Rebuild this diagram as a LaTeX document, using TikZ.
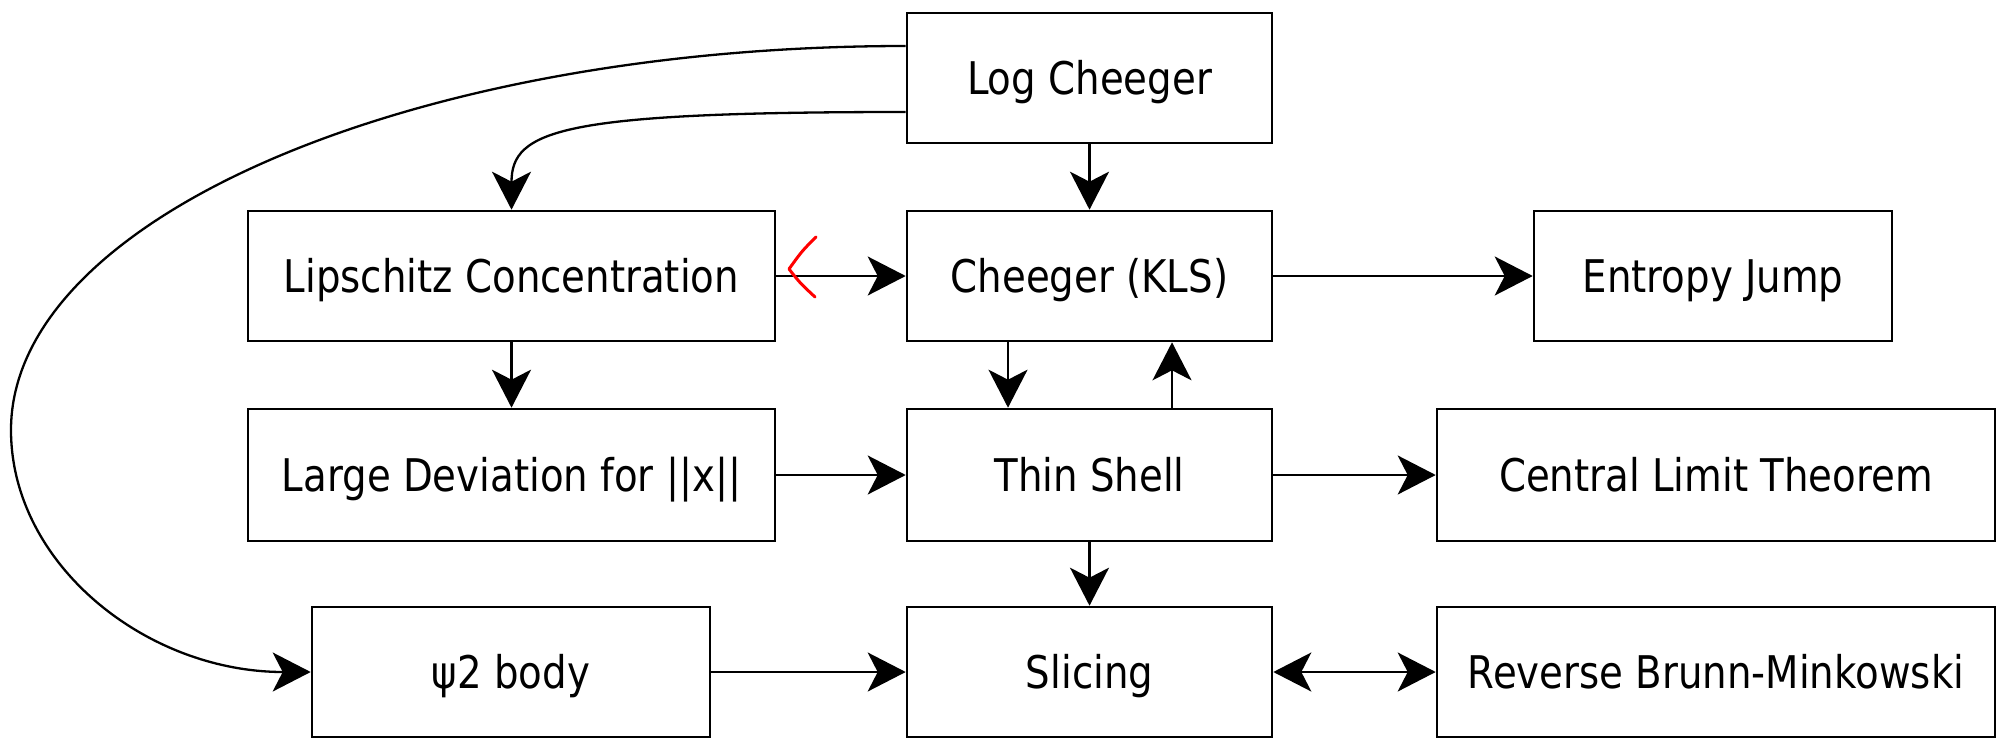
\documentclass[tikz,border=0pt]{standalone}
\usepackage{fontspec}
\setmainfont{DejaVu Sans}[FakeStretch=0.86]
\usetikzlibrary{arrows.meta}
\begin{document}
\begin{tikzpicture}[x=0.5pt,y=-0.5pt,
  box/.style={draw, line width=1.3pt, inner sep=0pt, align=center,
    text height=20.4pt, text depth=4pt,
    font=\fontsize{22.5}{27}\selectfont},
  arr/.style={line width=1.15pt, -{Stealth[length=19pt,width=19.5pt,inset=5pt]}},
  arrboth/.style={line width=1.15pt, {Stealth[length=19pt,width=19.5pt,inset=5pt]}-{Stealth[length=19pt,width=19.5pt,inset=5pt]}},
  redmark/.style={draw=red, line width=1.5pt, line cap=round, line join=round}
]
\useasboundingbox (0,0) rectangle (2001,739);
\fill[white] (0,0) rectangle (2001,739);

\node[box, minimum width=182.5pt, minimum height=65pt] (LogC) at (1089.5,78) {Log Cheeger};
\node[box, minimum width=263.5pt, minimum height=65pt] (Lip) at (511.5,276) {Lipschitz Concentration};
\node[box, minimum width=182.5pt, minimum height=65pt] (KLS) at (1089.5,276) {Cheeger (KLS)};
\node[box, minimum width=179pt, minimum height=65pt] (Ent) at (1713,276) {Entropy Jump};
\node[box, minimum width=263.5pt, minimum height=66pt] (LD) at (511.5,475) {Large Deviation for ||x||};
\node[box, minimum width=182.5pt, minimum height=66pt] (Thin) at (1089.5,475) {Thin Shell};
\node[box, minimum width=279pt, minimum height=66pt] (CLT) at (1716,475) {Central Limit Theorem};
\node[box, minimum width=199pt, minimum height=65pt] (Psi) at (511,672) {ψ2 body};
\node[box, minimum width=182.5pt, minimum height=65pt] (Slic) at (1089.5,672) {Slicing};
\node[box, minimum width=279pt, minimum height=65pt] (RBM) at (1716,672) {Reverse Brunn-Minkowski};

\coordinate (o1) at ([yshift=16pt]LogC.west);
\coordinate (i1) at ([yshift=-17pt]LogC.west);

\draw[arr] (LogC) -- (KLS);
\draw[arr] (Lip) -- (KLS);
\draw[arr] (KLS) -- (Ent);
\draw[arr] (Lip) -- (LD);
\draw[arr] (LD) -- (Thin);
\draw[arr] (Thin) -- (CLT);
\draw[arr] (Thin) -- (Slic);
\draw[arr] (Psi) -- (Slic);
\draw[arrboth] (Slic) -- (RBM);
\draw[arr] ([xshift=-40.75pt]KLS.south) -- ([xshift=-40.75pt]Thin.north);
\draw[arr] ([xshift=41.25pt]Thin.north) -- ([xshift=41.25pt]KLS.south);

\draw[arr] (o1) .. controls (412,46) and (11,218) .. (11,430)
  .. controls (11,564) and (146,672) .. (Psi.west);
\draw[arr] (i1) .. controls (560,112) and (511.5,130) .. (Lip.north);

\draw[redmark] (816,237) .. controls (802,251) .. (789,269) .. controls (800,283) .. (815,297);
\end{tikzpicture}
\end{document}
